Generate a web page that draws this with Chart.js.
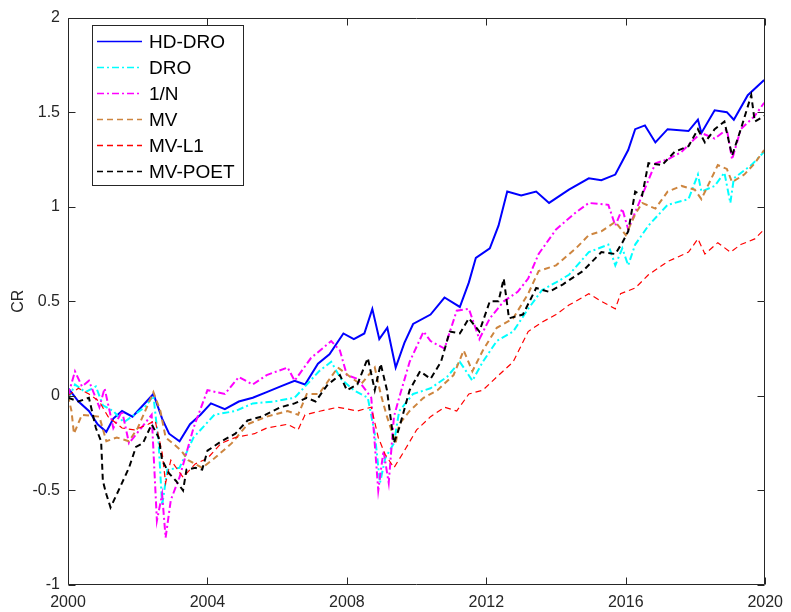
<!DOCTYPE html>
<html lang="en">
<head>
<meta charset="UTF-8">
<title>Cumulative return</title>
<script src="https://cdn.jsdelivr.net/npm/chart.js@4.4.1/dist/chart.umd.min.js"></script>
<style>
  html, body { margin: 0; padding: 0; background: #fff; }
  #wrap { width: 791px; height: 612px; }
</style>
</head>
<body>
<div id="wrap"><canvas id="crChart" width="791" height="612"></canvas></div>
<script>
  // values (year, cumulative return)
  const seriesNames = ['HD-DRO', 'DRO', '1/N', 'MV', 'MV-L1', 'MV-POET'];

  const hdDroYears = [2000.0, 2000.05, 2000.3, 2000.6, 2000.85, 2001.1, 2001.3, 2001.55, 2001.85, 2002.1, 2002.45, 2002.7, 2002.9, 2003.2, 2003.5, 2003.8, 2004.1, 2004.5, 2004.9, 2005.3, 2005.7, 2006.1, 2006.5, 2006.8, 2007.17, 2007.5, 2007.9, 2008.2, 2008.5, 2008.73, 2008.93, 2009.16, 2009.4, 2009.65, 2009.9, 2010.4, 2010.8, 2011.24, 2011.5, 2011.7, 2012.1, 2012.35, 2012.6, 2013.0, 2013.43, 2013.8, 2014.37, 2014.94, 2015.3, 2015.7, 2016.07, 2016.27, 2016.55, 2016.85, 2017.2, 2017.8, 2018.07, 2018.17, 2018.55, 2018.9, 2019.1, 2019.5, 2019.97];
  const hdDroValues = [0.0, 0.03, -0.03, -0.08, -0.15, -0.19, -0.12, -0.08, -0.11, -0.06, 0.01, -0.12, -0.2, -0.24, -0.15, -0.1, -0.04, -0.07, -0.03, -0.01, 0.02, 0.05, 0.08, 0.06, 0.17, 0.22, 0.33, 0.3, 0.33, 0.46, 0.3, 0.36, 0.15, 0.28, 0.38, 0.43, 0.52, 0.47, 0.6, 0.73, 0.78, 0.9, 1.08, 1.06, 1.08, 1.02, 1.09, 1.15, 1.14, 1.17, 1.3, 1.41, 1.43, 1.34, 1.41, 1.4, 1.46, 1.39, 1.51, 1.5, 1.46, 1.59, 1.67];

  const droYears = [2000.0, 2000.2, 2000.5, 2000.8, 2001.0, 2001.3, 2001.6, 2001.9, 2002.2, 2002.45, 2002.6, 2002.7, 2002.85, 2003.2, 2003.6, 2004.2, 2004.8, 2005.3, 2005.9, 2006.5, 2006.6, 2007.2, 2007.55, 2007.83, 2008.2, 2008.6, 2008.8, 2008.95, 2009.1, 2009.35, 2009.5, 2009.9, 2010.4, 2010.87, 2011.24, 2011.6, 2011.9, 2012.3, 2012.77, 2013.2, 2013.6, 2014.0, 2014.37, 2014.94, 2015.5, 2015.7, 2015.9, 2016.07, 2016.27, 2016.65, 2017.2, 2017.8, 2018.07, 2018.17, 2018.55, 2018.83, 2019.0, 2019.1, 2019.6, 2019.97];
  const droValues = [-0.02, 0.06, 0.02, 0.05, -0.05, -0.08, -0.14, -0.1, -0.06, 0.0, -0.25, -0.58, -0.39, -0.38, -0.22, -0.1, -0.08, -0.04, -0.03, -0.01, 0.01, 0.13, 0.18, 0.09, 0.03, -0.01, -0.2, -0.46, -0.33, -0.25, -0.08, 0.01, 0.04, 0.1, 0.18, 0.08, 0.18, 0.29, 0.34, 0.46, 0.56, 0.6, 0.64, 0.76, 0.8, 0.69, 0.78, 0.69, 0.8, 0.9, 1.01, 1.04, 1.17, 1.08, 1.11, 1.18, 1.02, 1.15, 1.22, 1.29];

  const oneOverNYears = [2000.0, 2000.2, 2000.4, 2000.6, 2000.9, 2001.05, 2001.3, 2001.55, 2001.75, 2002.1, 2002.4, 2002.55, 2002.7, 2002.8, 2002.95, 2003.2, 2003.6, 2004.0, 2004.5, 2004.9, 2005.3, 2005.7, 2006.3, 2006.5, 2006.97, 2007.55, 2007.8, 2008.0, 2008.3, 2008.7, 2008.9, 2009.05, 2009.2, 2009.35, 2009.5, 2009.8, 2010.2, 2010.4, 2010.8, 2011.15, 2011.5, 2011.8, 2012.1, 2012.5, 2012.9, 2013.2, 2013.5, 2014.0, 2014.57, 2014.94, 2015.5, 2015.7, 2015.9, 2016.07, 2016.47, 2016.85, 2017.2, 2017.6, 2017.98, 2018.17, 2018.55, 2018.9, 2019.05, 2019.3, 2019.7, 2019.97];
  const oneOverNValues = [0.0, 0.13, 0.05, 0.08, -0.06, 0.04, -0.17, -0.08, -0.25, -0.17, -0.1, -0.66, -0.52, -0.75, -0.55, -0.43, -0.17, 0.03, 0.01, 0.1, 0.06, 0.11, 0.15, 0.08, 0.2, 0.29, 0.24, 0.11, 0.09, -0.01, -0.5, -0.29, -0.46, -0.11, -0.01, 0.18, 0.34, 0.29, 0.25, 0.45, 0.46, 0.3, 0.41, 0.5, 0.55, 0.62, 0.75, 0.88, 0.97, 1.02, 1.01, 0.9, 0.99, 0.88, 1.06, 1.23, 1.25, 1.29, 1.36, 1.39, 1.36, 1.41, 1.25, 1.41, 1.48, 1.55];

  const mvYears = [2000.0, 2000.1, 2000.17, 2000.4, 2000.9, 2001.1, 2001.4, 2001.75, 2002.0, 2002.45, 2002.65, 2002.8, 2003.0, 2003.25, 2003.45, 2003.85, 2004.2, 2004.7, 2005.15, 2005.7, 2006.3, 2006.6, 2006.85, 2007.2, 2007.74, 2008.1, 2008.4, 2008.8, 2008.97, 2009.15, 2009.4, 2009.5, 2009.8, 2010.2, 2010.6, 2011.06, 2011.35, 2011.6, 2011.9, 2012.3, 2012.77, 2013.2, 2013.5, 2014.0, 2014.57, 2014.94, 2015.3, 2015.7, 2016.0, 2016.27, 2016.47, 2016.85, 2017.2, 2017.6, 2017.98, 2018.17, 2018.64, 2018.9, 2019.05, 2019.4, 2019.7, 2019.97];
  const mvValues = [0.0, -0.08, -0.2, -0.1, -0.11, -0.24, -0.22, -0.24, -0.17, 0.02, -0.08, -0.22, -0.25, -0.29, -0.34, -0.38, -0.33, -0.25, -0.15, -0.11, -0.08, -0.1, 0.01, 0.01, 0.15, 0.1, 0.06, 0.15, 0.01, -0.11, -0.25, -0.15, -0.08, -0.01, 0.03, 0.11, 0.24, 0.13, 0.24, 0.36, 0.41, 0.54, 0.66, 0.69, 0.78, 0.85, 0.87, 0.92, 0.85, 0.96, 1.02, 0.99, 1.08, 1.11, 1.09, 1.04, 1.22, 1.2, 1.13, 1.17, 1.23, 1.3];

  const mvL1Years = [2000.0, 2000.3, 2000.6, 2000.9, 2001.15, 2001.55, 2001.9, 2002.3, 2002.5, 2002.7, 2002.8, 2002.95, 2003.3, 2003.65, 2004.0, 2004.4, 2004.8, 2005.35, 2005.7, 2006.3, 2006.6, 2006.8, 2007.25, 2007.74, 2008.3, 2008.7, 2008.9, 2009.1, 2009.35, 2009.65, 2010.0, 2010.4, 2010.8, 2011.15, 2011.5, 2011.9, 2012.3, 2012.77, 2013.2, 2013.6, 2014.0, 2014.37, 2014.94, 2015.3, 2015.7, 2015.85, 2016.27, 2016.65, 2017.2, 2017.8, 2018.07, 2018.27, 2018.64, 2019.0, 2019.3, 2019.7, 2019.97];
  const mvL1Values = [0.0, 0.04, 0.01, -0.03, -0.11, -0.17, -0.18, -0.15, -0.13, -0.3, -0.46, -0.34, -0.43, -0.36, -0.33, -0.25, -0.22, -0.2, -0.17, -0.15, -0.18, -0.1, -0.08, -0.06, -0.08, -0.06, -0.22, -0.31, -0.38, -0.29, -0.18, -0.11, -0.06, -0.08, 0.01, 0.03, 0.1, 0.18, 0.34, 0.39, 0.43, 0.48, 0.54, 0.5, 0.46, 0.54, 0.57, 0.64, 0.71, 0.76, 0.83, 0.75, 0.81, 0.76, 0.8, 0.83, 0.88];

  const mvPoetYears = [2000.0, 2000.3, 2000.6, 2000.8, 2000.95, 2001.0, 2001.1, 2001.22, 2001.4, 2001.55, 2001.75, 2001.95, 2002.15, 2002.4, 2002.6, 2002.7, 2002.9, 2003.1, 2003.3, 2003.4, 2003.65, 2003.85, 2004.0, 2004.4, 2004.8, 2005.15, 2005.55, 2006.1, 2006.5, 2006.85, 2007.1, 2007.45, 2007.8, 2008.0, 2008.3, 2008.6, 2008.8, 2008.97, 2009.15, 2009.35, 2009.5, 2009.8, 2010.1, 2010.4, 2010.7, 2010.95, 2011.24, 2011.5, 2011.8, 2012.1, 2012.35, 2012.5, 2012.65, 2013.05, 2013.43, 2013.8, 2014.2, 2014.77, 2015.3, 2015.7, 2015.9, 2016.07, 2016.27, 2016.47, 2016.65, 2017.04, 2017.4, 2017.8, 2018.07, 2018.27, 2018.55, 2018.83, 2019.05, 2019.3, 2019.6, 2019.7, 2019.97];
  const mvPoetValues = [-0.01, -0.03, -0.01, -0.17, -0.24, -0.45, -0.52, -0.59, -0.52, -0.46, -0.38, -0.27, -0.25, -0.15, -0.22, -0.34, -0.41, -0.45, -0.5, -0.39, -0.38, -0.39, -0.29, -0.24, -0.2, -0.13, -0.11, -0.06, -0.04, -0.01, -0.03, 0.06, 0.11, 0.03, 0.06, 0.2, 0.03, 0.17, 0.03, -0.25, -0.17, 0.03, 0.13, 0.09, 0.18, 0.34, 0.33, 0.41, 0.34, 0.5, 0.5, 0.62, 0.41, 0.43, 0.57, 0.55, 0.59, 0.66, 0.76, 0.75, 0.81, 0.87, 1.08, 1.06, 1.23, 1.22, 1.29, 1.32, 1.41, 1.34, 1.41, 1.45, 1.27, 1.41, 1.59, 1.45, 1.48];

  const xTickValues = [2000, 2004, 2008, 2012, 2016, 2020];
  const yTickValues = [-1, -0.5, 0, 0.5, 1, 1.5, 2];

  const toPoints = (xs, ys) => xs.map((x, i) => ({ x: x, y: ys[i] }));

  const styles = [
    { color: '#0000ff', dash: [], width: 2 },
    { color: '#00ffff', dash: [7, 3, 2, 3], width: 2 },
    { color: '#ff00ff', dash: [7, 3, 2, 3], width: 2 },
    { color: '#cd853f', dash: [6, 4], width: 2 },
    { color: '#ff0000', dash: [6, 4], width: 1.2 },
    { color: '#000000', dash: [6, 4], width: 2 }
  ];
  const seriesData = [
    toPoints(hdDroYears, hdDroValues),
    toPoints(droYears, droValues),
    toPoints(oneOverNYears, oneOverNValues),
    toPoints(mvYears, mvValues),
    toPoints(mvL1Years, mvL1Values),
    toPoints(mvPoetYears, mvPoetValues)
  ];

  Chart.defaults.font.family = '"Liberation Sans", Arial, Helvetica, sans-serif';
  Chart.defaults.color = '#262626';

  // box round the axes with inward ticks on all four sides
  const axesBox = {
    id: 'axesBox',
    afterDatasetsDraw(chart) {
      const { ctx, chartArea: a, scales: { x, y } } = chart;
      const L = Math.round(a.left) + 0.5, R = Math.round(a.right) - 0.5;
      const T = Math.round(a.top) + 0.5, B = Math.round(a.bottom) - 0.5;
      const len = 7;
      ctx.save();
      ctx.strokeStyle = '#262626';
      ctx.lineWidth = 1;
      ctx.setLineDash([]);
      ctx.beginPath();
      ctx.moveTo(L, T); ctx.lineTo(R, T); ctx.lineTo(R, B); ctx.lineTo(L, B); ctx.closePath();
      xTickValues.forEach(v => {
        const px = Math.round(x.getPixelForValue(v)) + 0.5;
        ctx.moveTo(px, B); ctx.lineTo(px, B - len);
        ctx.moveTo(px, T); ctx.lineTo(px, T + len);
      });
      yTickValues.forEach(v => {
        const py = Math.round(y.getPixelForValue(v)) + 0.5;
        ctx.moveTo(L, py); ctx.lineTo(L + len, py);
        ctx.moveTo(R, py); ctx.lineTo(R - len, py);
      });
      ctx.stroke();
      ctx.restore();
    }
  };

  // MATLAB style legend box in the upper left corner
  const boxLegend = {
    id: 'boxLegend',
    afterDraw(chart) {
      const { ctx } = chart;
      const bx = 92, by = 25, bw = 151, bh = 160;
      ctx.save();
      ctx.fillStyle = '#ffffff';
      ctx.fillRect(bx, by, bw, bh);
      ctx.strokeStyle = '#262626';
      ctx.lineWidth = 1;
      ctx.strokeRect(bx + 0.5, by + 0.5, bw, bh);
      ctx.font = '19px "Liberation Sans", Arial, sans-serif';
      ctx.textBaseline = 'middle';
      ctx.fillStyle = '#000000';
      chart.data.datasets.forEach((ds, i) => {
        const ly = 41.5 + i * 26;
        ctx.strokeStyle = ds.borderColor;
        ctx.lineWidth = 1.5;
        ctx.setLineDash(ds.borderDash);
        ctx.beginPath();
        ctx.moveTo(97, ly);
        ctx.lineTo(142, ly);
        ctx.stroke();
        ctx.setLineDash([]);
        ctx.fillText(ds.label, 149, ly + 1);
      });
      ctx.restore();
    }
  };

  const config = {
    type: 'line',
    data: {
      datasets: seriesNames.map((name, i) => ({
        label: name,
        data: seriesData[i],
        borderColor: styles[i].color,
        backgroundColor: styles[i].color,
        borderDash: styles[i].dash,
        borderWidth: styles[i].width,
        pointRadius: 0,
        tension: 0,
        fill: false,
        order: seriesNames.length - i
      }))
    },
    options: {
      responsive: false,
      animation: false,
      devicePixelRatio: 1,
      layout: { padding: { left: 0, right: 20, top: 14, bottom: 0 } },
      plugins: {
        legend: { display: false },
        tooltip: { enabled: false }
      },
      scales: {
        x: {
          type: 'linear',
          min: 2000,
          max: 2020,
          afterBuildTicks: s => { s.ticks = xTickValues.map(v => ({ value: v })); },
          afterFit: s => { s.height = 27; },
          grid: { display: false, drawTicks: false },
          border: { display: false },
          ticks: {
            maxRotation: 0,
            padding: 8,
            font: { size: 16 },
            color: '#262626',
            callback: v => String(v)
          }
        },
        y: {
          min: -1,
          max: 2,
          afterBuildTicks: s => { s.ticks = yTickValues.map(v => ({ value: v })); },
          afterFit: s => { s.width = 68; },
          grid: { display: false, drawTicks: false },
          border: { display: false },
          title: {
            display: true,
            text: 'CR',
            font: { size: 16 },
            color: '#262626',
            padding: { top: 9, bottom: 0 }
          },
          ticks: {
            padding: 8,
            font: { size: 16 },
            color: '#262626',
            callback: v => String(v)
          }
        }
      }
    },
    plugins: [axesBox, boxLegend]
  };

  const chart = new Chart(document.getElementById('crChart').getContext('2d'), config);
</script>
</body>
</html>
